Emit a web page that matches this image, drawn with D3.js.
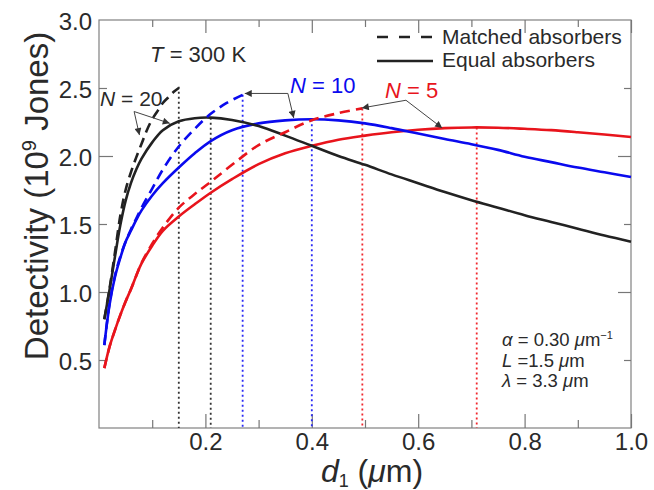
<!DOCTYPE html>
<html><head><meta charset="utf-8">
<script src="https://cdn.jsdelivr.net/npm/d3@7"></script>
<style>
html,body{margin:0;padding:0;background:#fff;}
svg{display:block;font-family:"Liberation Sans",Arial,Helvetica,sans-serif;}
</style></head><body>
<svg id="chart" width="654" height="490"></svg>
<script>
// ---- data ----
const dEqual = [0.01,0.02,0.03,0.04,0.05,0.06,0.07,0.08,0.10,0.12,0.15,0.18,0.21,0.25,0.30,0.35,0.40,0.45,0.50,0.55,0.60,0.65,0.70,0.75,0.80,0.85,0.90,0.95,1.00];
const detEqualN20 = [0.80,1.02,1.26,1.49,1.67,1.80,1.90,1.98,2.10,2.19,2.255,2.278,2.282,2.265,2.22,2.15,2.075,2.00,1.935,1.865,1.80,1.735,1.675,1.62,1.565,1.515,1.465,1.415,1.37];
const detEqualN10 = [0.61,0.91,1.11,1.25,1.37,1.45,1.53,1.60,1.71,1.80,1.915,2.02,2.11,2.19,2.24,2.262,2.27,2.262,2.24,2.205,2.165,2.125,2.087,2.045,1.995,1.955,1.915,1.88,1.845];
const detEqualN5  = [0.44,0.60,0.72,0.83,0.93,1.02,1.12,1.21,1.34,1.45,1.555,1.645,1.73,1.83,1.94,2.02,2.075,2.12,2.15,2.175,2.193,2.205,2.21,2.208,2.20,2.19,2.175,2.158,2.14];

const dMatchedN20   = [0.01,0.02,0.03,0.04,0.05,0.06,0.07,0.08,0.09,0.10,0.11,0.12,0.13,0.14,0.15];
const detMatchedN20 = [0.80,1.03,1.29,1.56,1.75,1.88,1.99,2.09,2.19,2.27,2.33,2.39,2.43,2.47,2.50];
const dMatchedN10   = [0.01,0.02,0.03,0.04,0.05,0.06,0.07,0.08,0.10,0.12,0.15,0.18,0.21,0.24,0.27];
const detMatchedN10 = [0.61,0.92,1.12,1.26,1.37,1.46,1.54,1.62,1.76,1.90,2.07,2.20,2.31,2.39,2.45];
const dMatchedN5    = [0.01,0.02,0.03,0.04,0.05,0.06,0.07,0.08,0.10,0.12,0.15,0.18,0.21,0.25,0.30,0.35,0.40,0.45,0.495];
const detMatchedN5  = [0.44,0.60,0.72,0.83,0.93,1.02,1.12,1.215,1.355,1.475,1.62,1.72,1.81,1.935,2.08,2.175,2.263,2.315,2.35];

const optimumD   = [0.15, 0.21, 0.27, 0.40, 0.495, 0.71];
const optimumDet = [2.51, 2.282, 2.45, 2.27, 2.35, 2.21];
const optimumN   = [20, 20, 10, 10, 5, 5];

const xMajorTicks = [0.2,0.4,0.6,0.8,1.0];
const xMinorTicks = [0.1,0.3,0.5,0.7,0.9];
const yLabelTicks = [0.5,1.0,1.5,2.0,2.5,3.0];
const yMajorTicks = [1.0,2.0];
const yMinorTicks = [0.5,1.5,2.5];

const colorOf = {20:"#222222", 10:"#0a0aee", 5:"#e8141c"};
const dotColorOf = {20:"#333333", 10:"#2a2af5", 5:"#f0282e"};

// ---- chart ----
const svg = d3.select("#chart");
const L = 99, R = 631, T = 20, B = 428;
const x = d3.scaleLinear().domain([0,1]).range([L,R]);
const y = d3.scaleLinear().domain([0,3]).range([B,T]);
const txt = "#2a2a2a", tickCol = "#777";

// frame
svg.append("rect").attr("x",L).attr("y",T).attr("width",R-L).attr("height",B-T)
  .attr("fill","none").attr("stroke","#808080").attr("stroke-width",1.2);

function tickAxis(axisFn, scale, vals, size, transform){
  const g = svg.append("g").attr("transform",transform)
    .call(axisFn(scale).tickValues(vals).tickSizeInner(size).tickSizeOuter(0).tickFormat(""));
  g.select(".domain").remove();
  g.selectAll("line").attr("stroke",tickCol).attr("stroke-width",1.2);
  return g;
}
tickAxis(d3.axisBottom, x, xMajorTicks, -14, `translate(0,${B})`);
tickAxis(d3.axisBottom, x, xMinorTicks, -8, `translate(0,${B})`);
tickAxis(d3.axisTop, x, xMajorTicks, -13, `translate(0,${T})`);
tickAxis(d3.axisTop, x, xMinorTicks, -7, `translate(0,${T})`);
tickAxis(d3.axisLeft, y, yMajorTicks, -14, `translate(${L},0)`);
tickAxis(d3.axisLeft, y, yMinorTicks, -8, `translate(${L},0)`);
tickAxis(d3.axisRight, y, yMajorTicks, -13, `translate(${R},0)`);
tickAxis(d3.axisRight, y, yMinorTicks, -7, `translate(${R},0)`);

// labels
const xl = svg.append("g").attr("transform",`translate(0,${B})`)
  .call(d3.axisBottom(x).tickValues(xMajorTicks).tickSize(0).tickPadding(5).tickFormat(d3.format(".1f")));
xl.select(".domain").remove();
xl.selectAll("text").attr("font-size",24).attr("fill",txt).attr("font-family","Liberation Sans, Arial, sans-serif");

const yl = svg.append("g").attr("transform",`translate(${L},0)`)
  .call(d3.axisLeft(y).tickValues(yLabelTicks).tickSize(0).tickPadding(7).tickFormat(d3.format(".1f")));
yl.select(".domain").remove();
yl.selectAll("text").attr("font-size",24).attr("fill",txt).attr("dy","0.40em").attr("font-family","Liberation Sans, Arial, sans-serif");

// axis titles
const yt = svg.append("text").attr("transform","translate(48,196) rotate(-90)")
  .attr("text-anchor","middle").attr("font-size",33).attr("fill",txt);
yt.append("tspan").text("Detectivity (10");
yt.append("tspan").attr("font-size",20).attr("baseline-shift","58%").text("9");
yt.append("tspan").text(" Jones)");

const xt = svg.append("text").attr("x",372).attr("y",482).attr("text-anchor","middle")
  .attr("font-size",32).attr("fill",txt);
xt.append("tspan").attr("font-style","italic").text("d");
xt.append("tspan").attr("font-size",18).attr("baseline-shift","-25%").text("1");
xt.append("tspan").text(" (");
xt.append("tspan").attr("font-style","italic").text("\u03bc");
xt.append("tspan").text("m)");

// dotted optimum lines
svg.append("g").selectAll("line").data(optimumD.map((d,i)=>({d, v:optimumDet[i], n:optimumN[i]})))
  .join("line")
  .attr("x1",o=>x(o.d)).attr("x2",o=>x(o.d))
  .attr("y1",o=>y(o.v)).attr("y2",B)
  .attr("stroke",o=>dotColorOf[o.n]).attr("stroke-width",1.8).attr("stroke-dasharray","2,3");

// curves
const line = d3.line().x(p=>x(p[0])).y(p=>y(p[1])).curve(d3.curveCatmullRom.alpha(0.5));
const series = [
  {n:5,  d:dEqual, v:detEqualN5, dash:null},
  {n:10, d:dEqual, v:detEqualN10, dash:null},
  {n:20, d:dEqual, v:detEqualN20, dash:null},
  {n:5,  d:dMatchedN5, v:detMatchedN5, dash:"10,6"},
  {n:10, d:dMatchedN10, v:detMatchedN10, dash:"10,6"},
  {n:20, d:dMatchedN20, v:detMatchedN20, dash:"10,6"},
];
svg.append("g").selectAll("path").data(series).join("path")
  .attr("d",s=>line(s.d.map((d,i)=>[d,s.v[i]])))
  .attr("fill","none").attr("stroke",s=>colorOf[s.n]).attr("stroke-width",2.6)
  .attr("stroke-dasharray",s=>s.dash);

// arrows
const defs = svg.append("defs");
defs.append("marker").attr("id","ah").attr("viewBox","0 0 10 10").attr("refX",10).attr("refY",5)
  .attr("markerWidth",8).attr("markerHeight",7).attr("markerUnits","userSpaceOnUse").attr("orient","auto")
  .append("path").attr("d","M0,0 L10,5 L0,10 z").attr("fill","#333");
const arrows = [
  {from:[0.066,2.327], to:[0.133,2.24]},
  {from:[0.066,2.327], to:[0.076,2.154]},
  {from:[0.355,2.46], to:[0.274,2.46]},
  {from:[0.355,2.46], to:[0.366,2.28]},
  {from:[0.577,2.41], to:[0.494,2.353]},
  {from:[0.577,2.41], to:[0.645,2.206]},
];
svg.append("g").selectAll("line").data(arrows).join("line")
  .attr("x1",a=>x(a.from[0])).attr("y1",a=>y(a.from[1]))
  .attr("x2",a=>x(a.to[0])).attr("y2",a=>y(a.to[1]))
  .attr("stroke","#444").attr("stroke-width",1).attr("marker-end","url(#ah)");

// N labels
function nLabel(n, d, v, size){
  const t = svg.append("text").attr("x",x(d)).attr("y",y(v)).attr("font-size",size).attr("fill",n===20?txt:colorOf[n]);
  t.append("tspan").attr("font-style","italic").text("N");
  t.append("tspan").text(" = " + n);
}
nLabel(20, 0.002, 2.368, 21);
nLabel(10, 0.359, 2.463, 22);
nLabel(5, 0.5376, 2.426, 22);

const tl = svg.append("text").attr("x",x(0.096)).attr("y",y(2.691)).attr("font-size",22).attr("fill",txt);
tl.append("tspan").attr("font-style","italic").text("T");
tl.append("tspan").text(" = 300 K");

// legend
const lg = svg.append("g");
lg.append("line").attr("x1",377).attr("x2",433).attr("y1",37).attr("y2",37)
  .attr("stroke","#222").attr("stroke-width",2.6).attr("stroke-dasharray","11,11");
lg.append("line").attr("x1",377).attr("x2",433).attr("y1",61).attr("y2",61)
  .attr("stroke","#222").attr("stroke-width",2.6);
lg.append("text").attr("x",442).attr("y",44).attr("font-size",21).attr("fill",txt).text("Matched absorbers");
lg.append("text").attr("x",442).attr("y",67).attr("font-size",21).attr("fill",txt).text("Equal absorbers");

// parameters
const pg = svg.append("g").attr("font-size",18.5).attr("fill",txt);
const p1 = pg.append("text").attr("x",502).attr("y",346);
p1.append("tspan").attr("font-style","italic").text("\u03b1");
p1.append("tspan").text(" = 0.30 ");
p1.append("tspan").attr("font-style","italic").text("\u03bc");
p1.append("tspan").text("m");
p1.append("tspan").attr("font-size",11).attr("baseline-shift","60%").text("\u22121");
const p2 = pg.append("text").attr("x",502).attr("y",366.5);
p2.append("tspan").attr("font-style","italic").text("L");
p2.append("tspan").text(" =1.5 ");
p2.append("tspan").attr("font-style","italic").text("\u03bc");
p2.append("tspan").text("m");
const p3 = pg.append("text").attr("x",502).attr("y",387);
p3.append("tspan").attr("font-style","italic").text("\u03bb");
p3.append("tspan").text(" = 3.3 ");
p3.append("tspan").attr("font-style","italic").text("\u03bc");
p3.append("tspan").text("m");
</script>
</body></html>
